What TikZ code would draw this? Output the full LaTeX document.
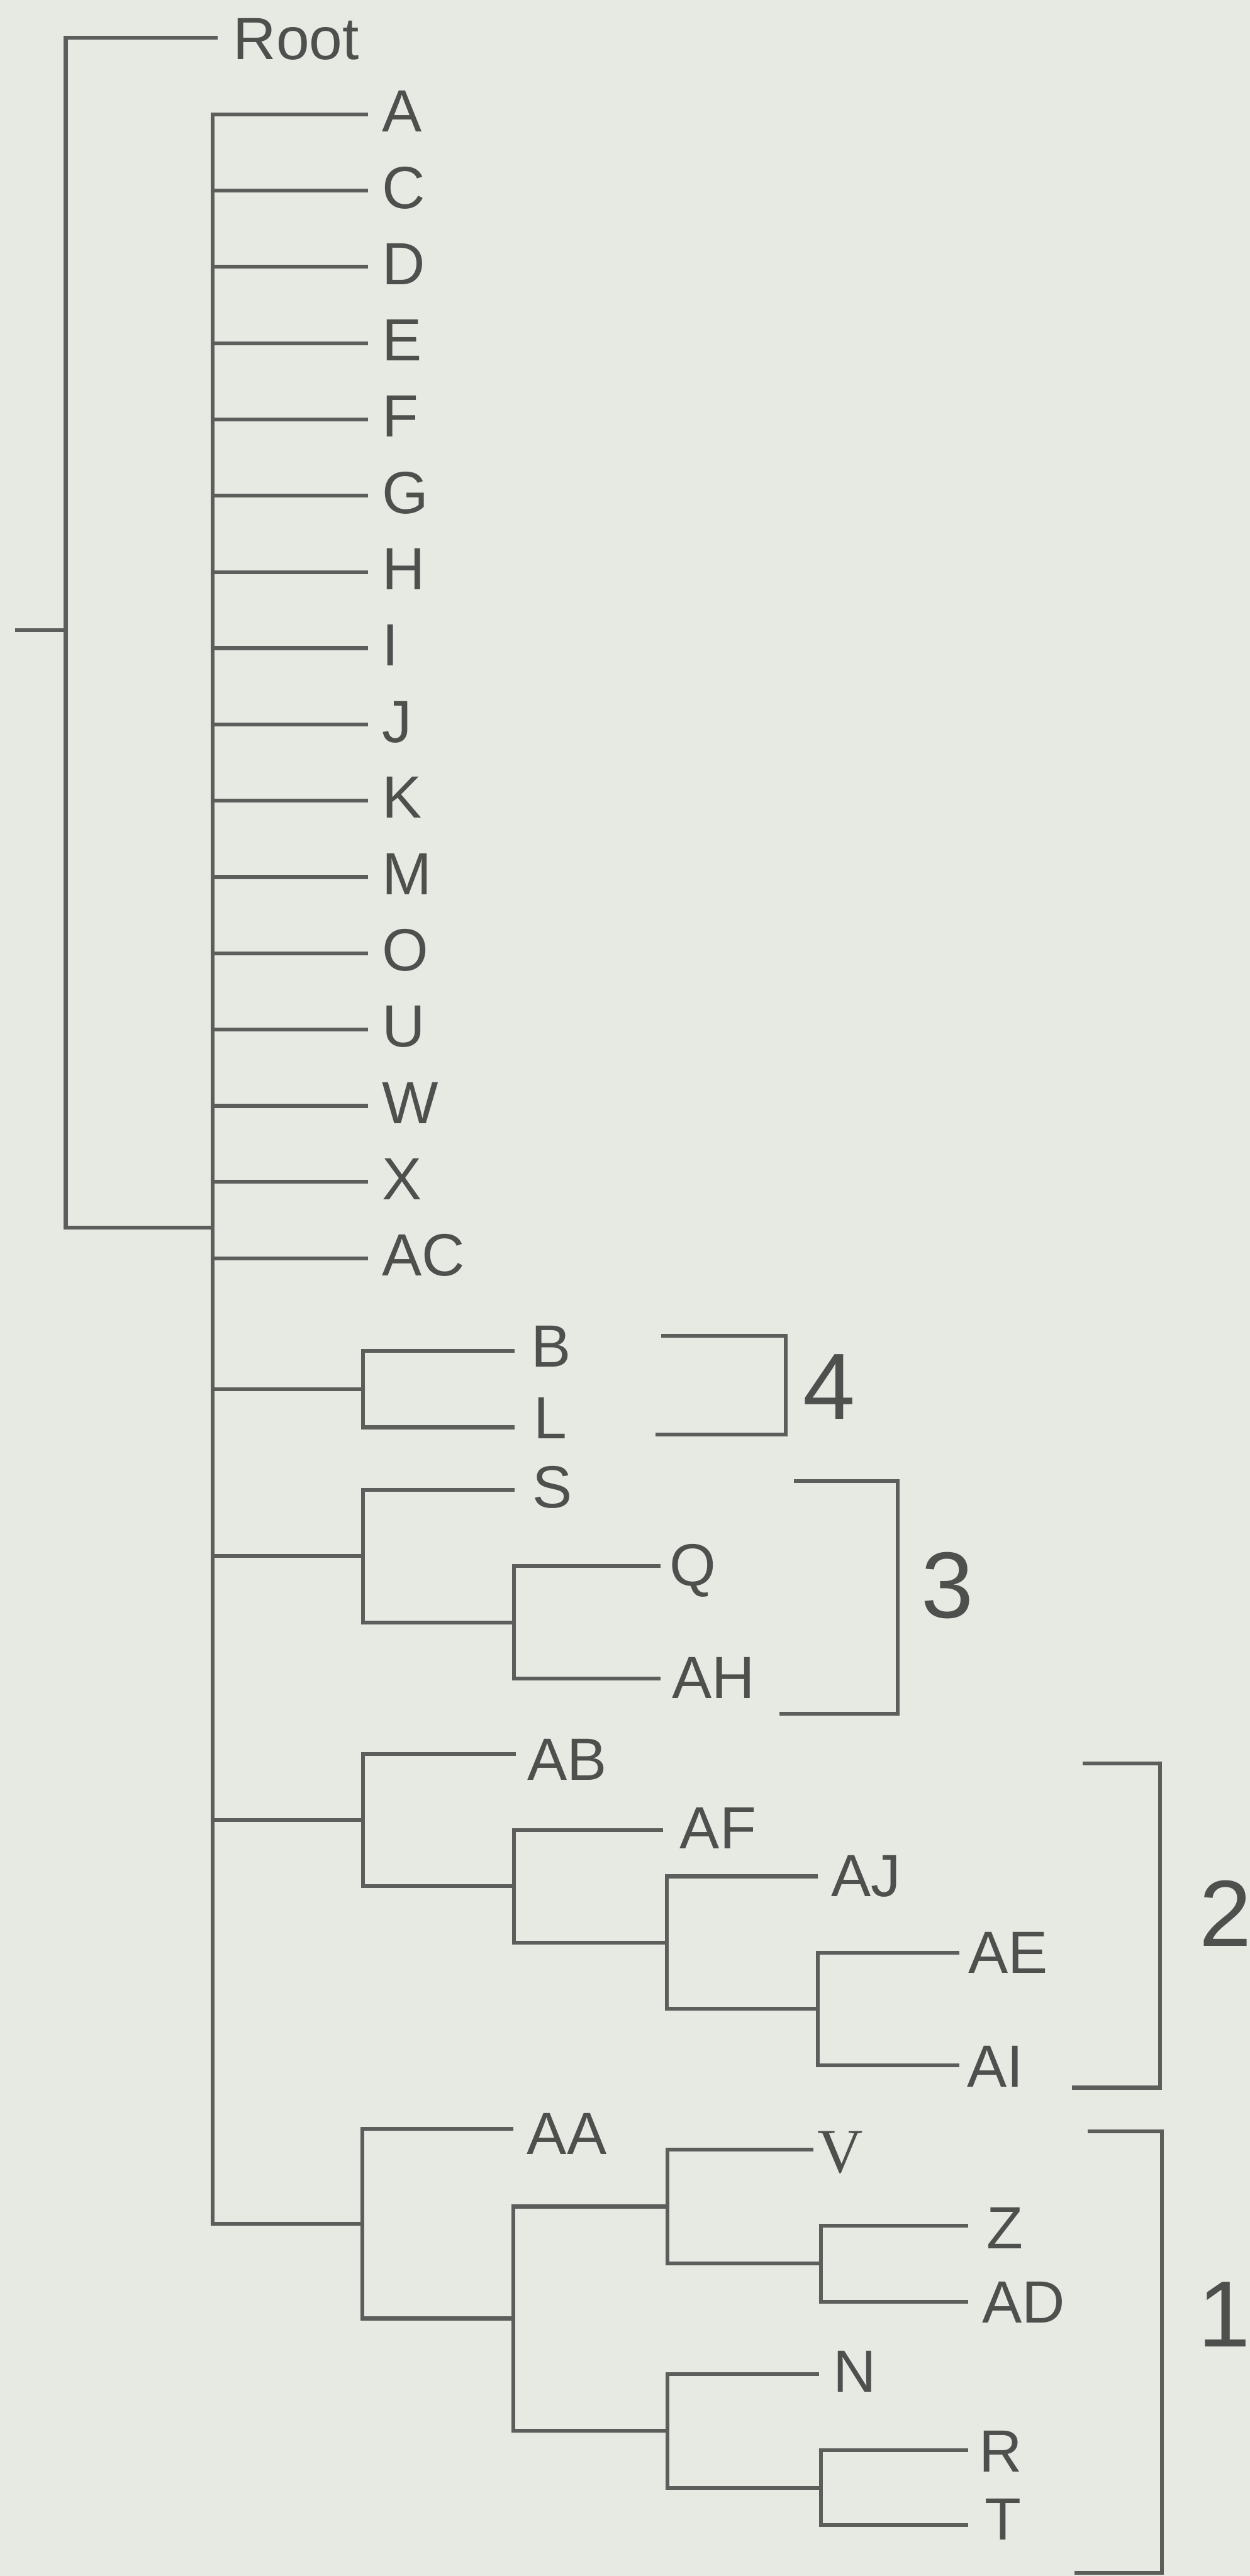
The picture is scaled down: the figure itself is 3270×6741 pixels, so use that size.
\documentclass[tikz,border=0pt]{standalone}
\usepackage{fontspec}
\setmainfont{Liberation Sans}
\newfontfamily\vserif{Liberation Serif}
\definecolor{bgc}{RGB}{231,234,227}
\definecolor{linec}{RGB}{92,94,92}
\definecolor{textc}{RGB}{78,80,78}
% name, text, parent, xend, y, text dx, text dy
\newcommand\leafnode[7]{%
  \coordinate (#1-e) at (#4,#5);
  \draw[br] (#3) |- (#1-e);
  \node[lbl] (#1) at (#4+#6,#5+#7) {#2};
}
\newcommand\juncnode[4]{% name, parent, x, y
  \coordinate (#1) at (#3,#4);
  \draw[br] (#2) |- (#1);
}
\begin{document}
\begin{tikzpicture}[x=0.1pt,y=-0.1pt,
  br/.style={draw=linec, line width=1pt},
  lbl/.style={anchor=base west, inner sep=0pt, text=textc, font=\fontsize{15.6}{18}\selectfont},
  num/.style={anchor=base west, inner sep=0pt, text=textc, font=\fontsize{24.6}{28}\selectfont}]
\fill[bgc] (0,0) rectangle (3270,6741);
\useasboundingbox (0,0) rectangle (3270,6741);
% root
\coordinate (R0) at (172,1649);
\coordinate (stub) at (39,1649);
\draw[br] (stub) -- (R0);
\leafnode{root}{Root}{R0}{570}{99}{38}{57}
\juncnode{M}{R0}{557}{3212}
% level-1 leaves
\leafnode{A}{A}{M}{962}{299}{35}{46}
\leafnode{C}{C}{M}{962}{499}{35}{46}
\leafnode{D}{D}{M}{962}{698}{35}{46}
\leafnode{E}{E}{M}{962}{898}{35}{46}
\leafnode{F}{F}{M}{962}{1097}{35}{46}
\leafnode{G}{G}{M}{962}{1297}{35}{46}
\leafnode{H}{H}{M}{962}{1497}{35}{46}
\leafnode{I}{I}{M}{962}{1696}{35}{46}
\leafnode{J}{J}{M}{962}{1896}{35}{46}
\leafnode{K}{K}{M}{962}{2095}{35}{46}
\leafnode{Mx}{M}{M}{962}{2295}{35}{46}
\leafnode{O}{O}{M}{962}{2495}{35}{46}
\leafnode{U}{U}{M}{962}{2694}{35}{46}
\leafnode{W}{W}{M}{962}{2894}{35}{46}
\leafnode{X}{X}{M}{962}{3093}{35}{46}
\leafnode{AC}{AC}{M}{962}{3293}{35}{46}
% group 4
\juncnode{gBL}{M}{950}{3635}
\leafnode{B}{B}{gBL}{1347}{3535}{40}{42}
\leafnode{L}{L}{gBL}{1347}{3735}{48}{30}
% group 3
\juncnode{gS}{M}{950}{4072}
\leafnode{S}{S}{gS}{1347}{3899}{44}{46}
\juncnode{gQ}{gS}{1345}{4246}
\leafnode{Q}{Q}{gQ}{1728}{4098}{22}{52}
\leafnode{AH}{AH}{gQ}{1728}{4393}{28}{52}
% group 2
\juncnode{gAB}{M}{950}{4763}
\leafnode{AB}{AB}{gAB}{1350}{4590}{28}{68}
\juncnode{gAF}{gAB}{1345}{4936}
\leafnode{AF}{AF}{gAF}{1735}{4789}{42}{48}
\juncnode{gAJ}{gAF}{1745}{5083}
\leafnode{AJ}{AJ}{gAJ}{2140}{4910}{33}{52}
\juncnode{gAE}{gAJ}{2140}{5256}
\leafnode{AE}{AE}{gAE}{2510}{5110}{22}{53}
\leafnode{AI}{AI}{gAE}{2510}{5404}{18}{58}
% group 1
\juncnode{gAA}{M}{948}{5819}
\leafnode{AA}{AA}{gAA}{1343}{5571}{34}{66}
\juncnode{gAA2}{gAA}{1343}{6067}
\juncnode{gV}{gAA2}{1746}{5774}
\coordinate (V-e) at (2128,5625);
\draw[br] (gV) |- (V-e);
\node[lbl, font=\vserif\fontsize{16.5}{18}\selectfont] (V) at (2136,5685) {V};
\juncnode{gZ}{gV}{2148}{5923}
\leafnode{Z}{Z}{gZ}{2532}{5824}{48}{60}
\leafnode{AD}{AD}{gZ}{2532}{6024}{36}{54}
\juncnode{gN}{gAA2}{1746}{6361}
\leafnode{N}{N}{gN}{2142}{6212}{36}{47}
\juncnode{gR}{gN}{2148}{6510}
\leafnode{R}{R}{gR}{2532}{6412}{27}{57}
\leafnode{T}{T}{gR}{2532}{6608}{42}{38}
% brackets
\draw[br] (1730,3496) -| (2056,3754) -- (1715,3754);
\node[num] (n4) at (2099,3714) {4};
\draw[br] (2077,3876) -| (2348,4485) -- (2039,4485);
\node[num] (n3) at (2408,4234) {3};
\draw[br] (2833,4614) -| (3035,5463) -- (2805,5463);
\node[num] (n2) at (3135,5093) {2};
\draw[br] (2845,5578) -| (3040,6733) -- (2811,6733);
\node[num] (n1) at (3133,6141) {1};
\end{tikzpicture}
\end{document}
